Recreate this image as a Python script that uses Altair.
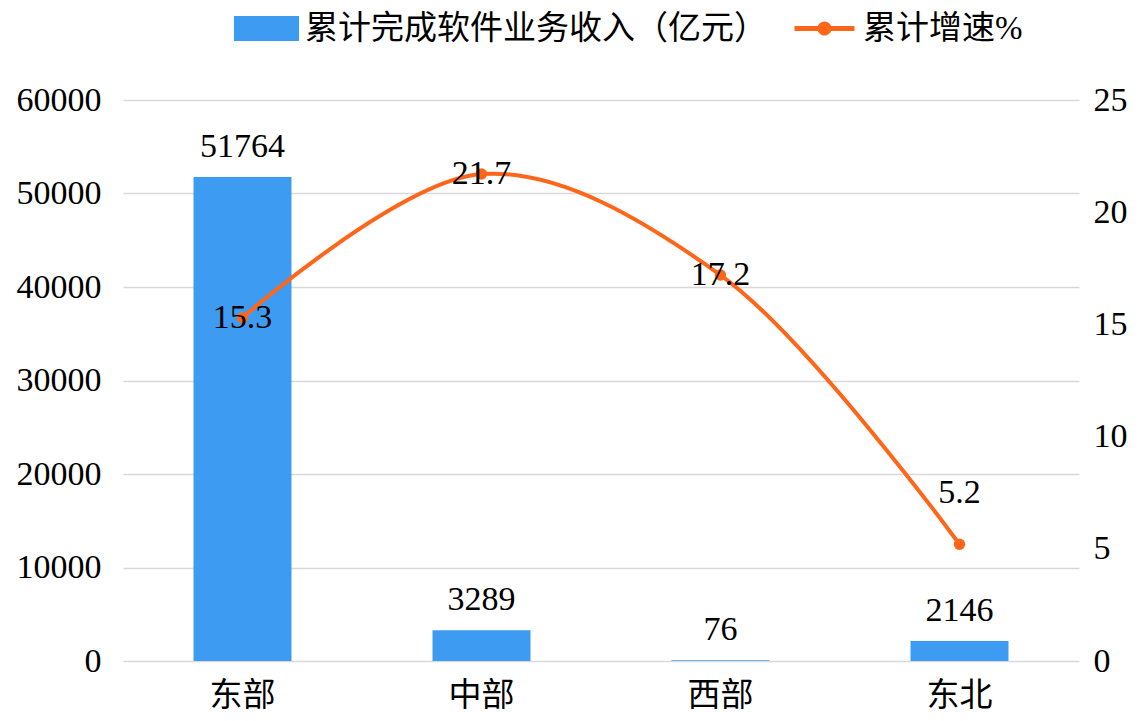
import altair as alt
import pandas as pd

regions = ["东部", "中部", "西部", "东北"]
revenue = [51764, 3289, 76, 2146]
growth = [15.3, 21.7, 17.2, 5.2]
bar_name = "累计完成软件业务收入（亿元）"
line_name = "累计增速%"
left_ticks = [0, 10000, 20000, 30000, 40000, 50000, 60000]
right_ticks = [0, 5, 10, 15, 20, 25]

df = pd.DataFrame({
    "region": regions,
    "revenue": revenue,
    "growth": growth,
    "bar_series": [bar_name] * len(regions),
    "line_series": [line_name] * len(regions),
})

FONT = "Liberation Serif, Noto Sans CJK SC"
BLUE = "#3d9cf2"
ORANGE = "#ff661a"
FS = 33
NFS = 34

base = alt.Chart(df)

x = alt.X(
    "region:N", sort=regions, title=None,
    scale=alt.Scale(paddingInner=0.59, paddingOuter=0.295),
    axis=alt.Axis(labelAngle=0, labelFontSize=FS, labelFont=FONT, labelColor="#000",
                  labelPadding=18, ticks=False, domain=False, grid=False),
)

y_left = alt.Y(
    "revenue:Q", title=None,
    scale=alt.Scale(domain=[0, 60000], nice=False),
    axis=alt.Axis(values=left_ticks, format="d", labelFontSize=NFS, labelFont=FONT,
                  labelColor="#000", labelPadding=22, ticks=False, domain=False,
                  gridColor="#d9d9d9", gridWidth=1.5),
)

rect_path = "M-2.17,-0.83H2.17V0.83H-2.17Z"
line_sym = ("M-2,-0.17H2V0.17H-2Z "
            "M0.47,0A0.47,0.47,0,1,1,-0.47,0A0.47,0.47,0,1,1,0.47,0Z")

bars = base.mark_bar().encode(
    x=x, y=y_left,
    fill=alt.Fill("bar_series:N", scale=alt.Scale(domain=[bar_name], range=[BLUE]),
                  legend=alt.Legend(orient="none", legendX=127, legendY=-88, title=None,
                                    padding=0, symbolType=rect_path, symbolSize=900,
                                    symbolStrokeWidth=0, labelFont=FONT, labelFontSize=FS,
                                    labelColor="#000", labelOffset=22, labelLimit=600)),
)
bar_text = base.mark_text(baseline="bottom", dy=-13, fontSize=NFS, font=FONT, color="#000").encode(
    x=x, y=alt.Y("revenue:Q"), text=alt.Text("revenue:Q", format="d")
)
left = alt.layer(bars, bar_text)

y_right = alt.Y(
    "growth:Q", title=None,
    scale=alt.Scale(domain=[0, 25], nice=False),
    axis=alt.Axis(orient="right", values=right_ticks, labelFontSize=NFS, labelFont=FONT,
                  labelColor="#000", labelPadding=14, ticks=False, domain=False, grid=False),
)

line = base.mark_line(interpolate="catmull-rom", strokeWidth=4).encode(
    x=x, y=y_right,
    stroke=alt.Stroke("line_series:N", scale=alt.Scale(domain=[line_name], range=[ORANGE]),
                      legend=alt.Legend(orient="none", legendX=685, legendY=-88, title=None,
                                        padding=0, symbolType=line_sym, symbolSize=900,
                                        symbolStrokeWidth=0, symbolFillColor=ORANGE,
                                        labelFont=FONT, labelFontSize=FS, labelColor="#000",
                                        labelOffset=22, labelLimit=400)),
)
points = base.mark_point(filled=True, size=130, color=ORANGE, opacity=1).encode(
    x=x, y=alt.Y("growth:Q")
)
line_text = base.transform_filter(alt.datum.region != "东北").mark_text(
    baseline="middle", fontSize=NFS, font=FONT, color="#000"
).encode(x=x, y=alt.Y("growth:Q"), text=alt.Text("growth:Q", format=".1f"))
line_text2 = base.transform_filter(alt.datum.region == "东北").mark_text(
    baseline="middle", dy=-51, fontSize=NFS, font=FONT, color="#000"
).encode(x=x, y=alt.Y("growth:Q"), text=alt.Text("growth:Q", format=".1f"))
right = alt.layer(line, points, line_text, line_text2)

chart = alt.layer(left, right).resolve_scale(y="independent").properties(
    width=956, height=561,
    padding={"left": 8, "top": 4, "right": 0, "bottom": 0},
).configure_view(stroke=None)

chart.save("out.html", embed_options={"renderer": "svg", "actions": False})
